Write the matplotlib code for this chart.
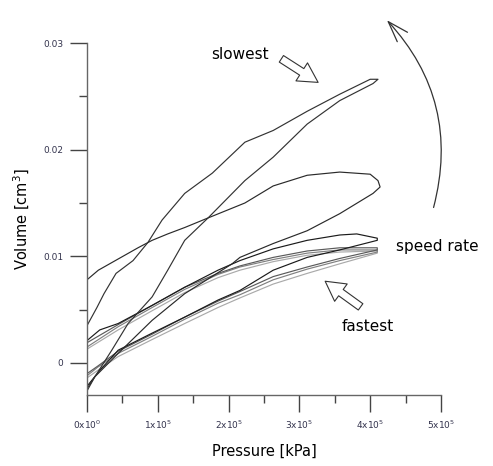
import matplotlib.pyplot as plt
from matplotlib.patches import FancyArrowPatch
from matplotlib.ticker import MultipleLocator

# pressure in units of 1e5 kPa, volume in cm3
# loop 1 - slowest
l1_load_x = [0.01, 0.11, 0.35, 0.58, 0.92, 1.14, 1.38, 1.71, 2.23, 2.63, 3.11, 3.57, 4.04, 4.11]
l1_load_y = [-0.0025, -0.0013, 0.0012, 0.0037, 0.0062, 0.0087, 0.0115, 0.0136, 0.0171, 0.0193, 0.0224, 0.0246, 0.0262, 0.0266]
l1_unl_x = [4.11, 4.0, 3.57, 3.11, 2.63, 2.23, 1.77, 1.38, 1.06, 0.86, 0.65, 0.41, 0.24, 0.14, 0.0]
l1_unl_y = [0.0266, 0.0266, 0.0252, 0.0236, 0.0218, 0.0207, 0.0178, 0.0159, 0.0134, 0.0113, 0.0096, 0.0084, 0.0065, 0.0052, 0.0035]

# loop 2
l2_load_x = [0.01, 0.11, 0.44, 0.92, 1.38, 2.05, 2.16, 2.63, 3.11, 3.57, 4.04, 4.14]
l2_load_y = [-0.0023, -0.0013, 0.0009, 0.0040, 0.0065, 0.0093, 0.0099, 0.0112, 0.0124, 0.0140, 0.0159, 0.0165]
l2_unl_x = [4.14, 4.11, 4.0, 3.57, 3.11, 2.63, 2.23, 1.71, 1.38, 1.14, 0.92, 0.72, 0.40, 0.16, 0.0]
l2_unl_y = [0.0165, 0.0171, 0.0177, 0.0179, 0.0176, 0.0166, 0.0150, 0.0136, 0.0127, 0.0121, 0.0115, 0.0108, 0.0096, 0.0087, 0.0078]

# loop 3
l3_load_x = [0.01, 0.18, 0.44, 0.92, 1.38, 1.85, 2.16, 2.63, 3.11, 3.57, 4.10]
l3_load_y = [-0.0021, -0.0007, 0.0012, 0.0028, 0.0043, 0.0059, 0.0068, 0.0087, 0.0099, 0.0106, 0.0115]
l3_unl_x = [4.10, 3.81, 3.57, 3.11, 2.63, 2.16, 1.85, 1.38, 0.92, 0.44, 0.18, 0.0]
l3_unl_y = [0.0117, 0.0121, 0.0120, 0.0115, 0.0107, 0.0096, 0.0087, 0.0071, 0.0054, 0.0037, 0.0031, 0.0021]

# loops 4-6 - fastest
fast_up_x = [0.0, 0.44, 0.92, 1.38, 1.85, 2.16, 2.63, 3.11, 3.57, 4.10]
fast_lo_x = [4.10, 3.57, 3.11, 2.63, 2.16, 1.85, 1.38, 0.92, 0.44, 0.15, 0.0]
l4_up_y = [0.0015, 0.0034, 0.0052, 0.0069, 0.0083, 0.0090, 0.0097, 0.0103, 0.0106, 0.0106]
l4_lo_y = [0.0104, 0.0096, 0.0088, 0.0078, 0.0064, 0.0056, 0.0041, 0.0025, 0.0009, -0.0004, -0.0012]
l5_up_y = [0.0013, 0.0031, 0.0049, 0.0066, 0.0080, 0.0087, 0.0095, 0.0101, 0.0104, 0.0105]
l5_lo_y = [0.0103, 0.0093, 0.0084, 0.0074, 0.0061, 0.0052, 0.0037, 0.0022, 0.0006, -0.0007, -0.0014]
l6_up_y = [0.0019, 0.0036, 0.0054, 0.0071, 0.0084, 0.0091, 0.0099, 0.0105, 0.0108, 0.0108]
l6_lo_y = [0.0106, 0.0098, 0.0090, 0.0081, 0.0067, 0.0058, 0.0043, 0.0027, 0.0011, -0.0003, -0.0010]

xticks = [0, 1, 2, 3, 4, 5]
xtick_labels = ["0x10$^{0}$", "1x10$^{5}$", "2x10$^{5}$", "3x10$^{5}$", "4x10$^{5}$", "5x10$^{5}$"]
yticks = [0, 0.01, 0.02, 0.03]
ytick_labels = ["0", "0.01", "0.02", "0.03"]

fig = plt.figure(figsize=(4.93, 4.66), dpi=100)
ax = fig.add_axes([0.1765, 0.1524, 0.718, 0.7553])

def loop(xa, ya, xb, yb, c):
    ax.plot(list(xa) + list(xb), list(ya) + list(yb), color=c, lw=0.85)

loop(fast_up_x, l5_up_y, fast_lo_x, l5_lo_y, "#aaaaaa")
loop(fast_up_x, l4_up_y, fast_lo_x, l4_lo_y, "#808080")
loop(fast_up_x, l6_up_y, fast_lo_x, l6_lo_y, "#5a5a5a")
loop(l3_load_x, l3_load_y, l3_unl_x, l3_unl_y, "#1a1a1a")
loop(l2_load_x, l2_load_y, l2_unl_x, l2_unl_y, "#2a2a2a")
loop(l1_load_x, l1_load_y, l1_unl_x, l1_unl_y, "#333333")

ax.set_xlim(0, 5)
ax.set_ylim(-0.003, 0.03)
ax.spines["top"].set_visible(False)
ax.spines["right"].set_visible(False)
for s in ["left", "bottom"]:
    ax.spines[s].set_color("#666666")
    ax.spines[s].set_linewidth(1.0)

ax.set_xticks(xticks)
ax.set_xticklabels(xtick_labels)
ax.set_yticks(yticks)
ax.set_yticklabels(ytick_labels)
ax.xaxis.set_minor_locator(MultipleLocator(0.5))
ax.yaxis.set_minor_locator(MultipleLocator(0.005))
ax.tick_params(which="major", length=12, width=1, color="#444444",
               labelsize=6.5, labelcolor="#33334d", pad=5)
ax.tick_params(which="minor", length=6, width=1, color="#444444")

ax.set_xlabel("Pressure [kPa]", fontsize=10.5, labelpad=9)
ax.set_ylabel("Volume [cm$^3$]", fontsize=10.5, labelpad=8)

fig.text(0.487, 0.882, "slowest", fontsize=11, ha="center", va="center")
fig.text(0.746, 0.300, "fastest", fontsize=11, ha="center", va="center")
fig.text(0.888, 0.472, "speed rate", fontsize=11, ha="center", va="center")

hollow = dict(arrowstyle="simple,head_width=1.1,head_length=1.0,tail_width=0.4",
              fc="white", ec="#333333", lw=0.8)
fig.add_artist(FancyArrowPatch((0.566, 0.877), (0.650, 0.820),
                               transform=fig.transFigure, mutation_scale=14, **hollow))
fig.add_artist(FancyArrowPatch((0.736, 0.338), (0.655, 0.400),
                               transform=fig.transFigure, mutation_scale=14, **hollow))
fig.add_artist(FancyArrowPatch((0.878, 0.549), (0.781, 0.961),
                               transform=fig.transFigure, connectionstyle="arc3,rad=0.28",
                               arrowstyle="->,head_length=15,head_width=5",
                               color="#333333", lw=0.9, mutation_scale=1))

fig.savefig("out.png", dpi=100)
